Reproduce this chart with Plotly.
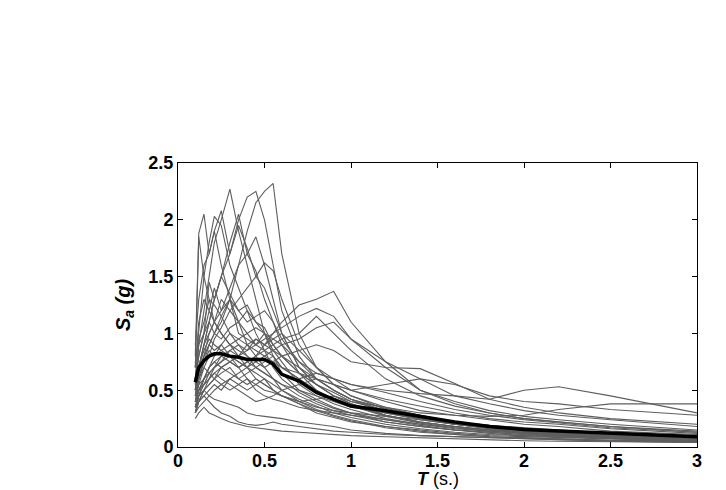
import plotly.graph_objects as go

periods = [0.1, 0.12, 0.15, 0.18, 0.21, 0.25, 0.3, 0.35, 0.4, 0.45, 0.5, 0.55, 0.6,
           0.7, 0.8, 0.9, 1.0, 1.2, 1.4, 1.6, 1.8, 2.0, 2.2, 2.5, 3.0]

mean_sa = [0.57, 0.70, 0.76, 0.80, 0.82, 0.82, 0.80, 0.79, 0.77, 0.77, 0.77, 0.73, 0.64,
           0.58, 0.48, 0.42, 0.36, 0.32, 0.27, 0.22, 0.18, 0.155, 0.14, 0.12, 0.09]

r01 = [0.45,0.6,0.75,0.9,1.0,1.1,1.3,1.6,1.9,2.15,2.25,2.32,1.7,1.0,0.7,0.55,0.45,0.33,0.25,0.2,0.16,0.13,0.11,0.09,0.07]
r02 = [0.6,0.9,1.2,1.5,1.8,2.0,2.27,1.9,1.6,1.3,1.0,0.8,0.65,0.5,0.42,0.35,0.3,0.22,0.18,0.15,0.12,0.1,0.09,0.07,0.05]
r03 = [0.5,0.7,0.9,1.1,1.3,1.5,1.7,2.0,2.2,2.25,2.0,1.6,1.2,0.8,0.6,0.5,0.42,0.3,0.24,0.2,0.17,0.14,0.12,0.1,0.08]
r04 = [0.8,1.88,2.05,1.7,1.9,1.6,1.3,1.1,0.9,0.8,0.7,0.6,0.5,0.4,0.33,0.28,0.24,0.18,0.14,0.11,0.09,0.08,0.07,0.06,0.05]
r05 = [0.7,1.0,1.5,1.8,2.03,1.95,1.6,1.4,1.2,1.0,0.85,0.7,0.6,0.48,0.4,0.34,0.3,0.24,0.19,0.15,0.13,0.11,0.1,0.08,0.06]
r06 = [0.9,1.3,1.6,1.7,1.9,2.08,1.7,1.95,1.75,1.5,1.4,1.2,1.0,0.7,0.55,0.45,0.38,0.28,0.22,0.18,0.15,0.12,0.11,0.09,0.07]
r07 = [0.5,0.6,0.8,1.0,1.1,1.2,1.4,1.6,1.7,1.55,1.3,1.1,0.9,0.65,0.5,0.42,0.36,0.27,0.21,0.17,0.14,0.12,0.11,0.09,0.07]
r08 = [0.4,0.55,0.7,0.8,0.95,1.05,1.2,1.3,1.4,1.5,1.62,1.55,1.3,0.9,0.7,0.55,0.45,0.35,0.28,0.22,0.18,0.15,0.13,0.11,0.08]
r09 = [0.35,0.4,0.5,0.55,0.6,0.7,0.75,0.8,0.85,0.9,0.95,1.0,1.1,1.25,1.3,1.37,1.1,0.75,0.5,0.38,0.3,0.25,0.22,0.18,0.14]
r10 = [0.4,0.5,0.6,0.65,0.7,0.75,0.85,0.8,0.9,0.95,0.9,1.0,1.05,1.15,1.22,1.15,0.95,0.7,0.5,0.4,0.32,0.27,0.24,0.2,0.15]
r11 = [0.3,0.35,0.4,0.45,0.5,0.55,0.6,0.65,0.7,0.75,0.8,0.85,0.9,0.95,1.05,1.1,0.95,0.75,0.6,0.45,0.38,0.32,0.28,0.24,0.18]
r12 = [0.35,0.45,0.5,0.55,0.6,0.65,0.7,0.6,0.65,0.7,0.75,0.8,0.7,0.6,0.65,0.6,0.55,0.5,0.47,0.45,0.42,0.5,0.53,0.45,0.3]
r13 = [0.3,0.4,0.45,0.5,0.55,0.5,0.6,0.55,0.5,0.55,0.6,0.5,0.45,0.4,0.42,0.45,0.4,0.35,0.3,0.28,0.27,0.28,0.33,0.38,0.38]
r14 = [0.5,0.7,0.8,0.9,0.85,0.9,1.0,0.95,0.9,0.85,0.8,0.75,0.7,0.65,0.6,0.55,0.5,0.55,0.6,0.55,0.45,0.4,0.38,0.33,0.28]
r15 = [0.45,0.55,0.6,0.7,0.75,0.8,0.85,0.9,0.8,0.75,0.7,0.75,0.8,0.85,0.9,0.85,0.75,0.7,0.69,0.56,0.42,0.35,0.3,0.25,0.2]
r16 = [0.6,0.8,1.0,1.2,1.1,1.3,1.2,1.1,1.0,0.9,0.85,0.8,0.7,0.6,0.5,0.42,0.36,0.28,0.22,0.18,0.15,0.13,0.11,0.09,0.07]
r17 = [0.7,1.1,1.3,1.2,1.4,1.2,1.3,1.0,0.95,0.9,1.0,0.85,0.75,0.55,0.45,0.38,0.33,0.25,0.2,0.16,0.14,0.12,0.1,0.08,0.06]
r18 = [0.55,0.9,1.0,1.1,1.0,0.95,1.05,1.1,1.2,1.1,1.0,0.9,0.8,0.65,0.55,0.45,0.38,0.3,0.25,0.2,0.16,0.14,0.12,0.1,0.08]
r19 = [0.4,0.6,0.75,0.85,0.8,0.9,0.8,0.75,0.7,0.8,0.9,0.95,1.0,0.85,0.7,0.6,0.5,0.4,0.32,0.28,0.24,0.2,0.18,0.14,0.11]
r20 = [0.35,0.5,0.6,0.7,0.75,0.7,0.65,0.6,0.55,0.6,0.55,0.5,0.45,0.38,0.3,0.26,0.22,0.18,0.15,0.12,0.1,0.09,0.08,0.07,0.05]
r21 = [0.45,0.6,0.7,0.65,0.6,0.55,0.5,0.55,0.6,0.5,0.45,0.42,0.4,0.35,0.32,0.3,0.28,0.24,0.2,0.17,0.15,0.13,0.11,0.09,0.07]
r22 = [0.25,0.3,0.35,0.3,0.28,0.25,0.22,0.2,0.18,0.17,0.16,0.15,0.14,0.13,0.12,0.11,0.1,0.09,0.08,0.07,0.06,0.055,0.05,0.045,0.04]
r23 = [0.3,0.4,0.45,0.4,0.35,0.3,0.27,0.22,0.2,0.19,0.2,0.22,0.2,0.18,0.16,0.14,0.13,0.11,0.1,0.09,0.08,0.07,0.06,0.05,0.04]
r24 = [0.35,0.45,0.5,0.45,0.42,0.4,0.38,0.35,0.3,0.28,0.27,0.26,0.25,0.22,0.2,0.18,0.15,0.12,0.1,0.09,0.08,0.07,0.065,0.055,0.045]
r25 = [0.5,0.7,0.9,1.0,1.1,1.0,0.9,0.85,0.8,0.7,0.65,0.6,0.55,0.45,0.38,0.32,0.28,0.22,0.18,0.15,0.13,0.11,0.1,0.08,0.06]
r26 = [0.6,0.95,1.1,1.3,1.25,1.15,1.0,0.9,0.85,0.95,0.9,0.85,0.8,0.7,0.6,0.5,0.42,0.34,0.28,0.22,0.19,0.16,0.14,0.11,0.09]
r27 = [0.45,0.65,0.8,0.9,1.0,1.15,1.3,1.2,1.1,1.15,1.2,1.1,0.95,0.75,0.6,0.5,0.42,0.32,0.25,0.2,0.17,0.14,0.12,0.1,0.08]
r28 = [0.3,0.45,0.55,0.65,0.7,0.8,0.75,0.7,0.75,0.7,0.65,0.6,0.55,0.5,0.45,0.4,0.35,0.3,0.26,0.22,0.19,0.17,0.15,0.12,0.1]
r29 = [0.55,0.8,1.0,1.45,1.3,1.5,1.35,1.2,1.25,1.1,1.05,0.9,0.8,0.65,0.55,0.48,0.4,0.32,0.26,0.21,0.18,0.15,0.13,0.11,0.08]
r30 = [0.4,0.5,0.55,0.6,0.65,0.6,0.55,0.5,0.45,0.4,0.42,0.45,0.5,0.55,0.6,0.55,0.5,0.42,0.36,0.3,0.25,0.22,0.2,0.16,0.12]
r31 = [0.35,0.45,0.6,0.7,0.8,0.85,0.9,0.95,1.0,1.05,1.0,0.95,0.9,0.75,0.65,0.6,0.55,0.48,0.4,0.33,0.28,0.24,0.21,0.17,0.13]
r32 = [0.5,0.7,0.85,0.95,0.9,0.85,0.8,0.75,0.7,0.65,0.6,0.55,0.5,0.42,0.36,0.3,0.26,0.2,0.16,0.13,0.11,0.1,0.09,0.07,0.05]
r33 = [0.7,1.85,1.5,1.3,1.1,1.0,0.9,0.8,0.7,0.6,0.55,0.5,0.45,0.38,0.32,0.27,0.23,0.17,0.13,0.11,0.09,0.08,0.07,0.06,0.05]
r34 = [0.5,0.7,0.9,1.1,1.3,1.5,1.8,2.05,1.7,1.85,1.6,1.3,1.0,0.7,0.55,0.45,0.38,0.28,0.22,0.18,0.15,0.13,0.11,0.09,0.07]
r35 = [0.3,0.4,0.5,0.6,0.7,0.75,0.8,0.7,0.6,0.55,0.5,0.48,0.45,0.4,0.35,0.32,0.3,0.27,0.24,0.2,0.17,0.15,0.14,0.12,0.1]
r36 = [0.4,0.5,0.55,0.6,0.65,0.7,0.75,0.7,0.75,0.8,0.85,0.9,0.95,1.0,1.15,1.0,0.85,0.6,0.45,0.36,0.3,0.25,0.22,0.18,0.13]

records = [r01, r02, r03, r04, r05, r06, r07, r08, r09, r10, r11, r12, r13, r14, r15, r16, r17, r18,
           r19, r20, r21, r22, r23, r24, r25, r26, r27, r28, r29, r30, r31, r32, r33, r34, r35, r36]

x_ticks = [0, 0.5, 1, 1.5, 2, 2.5, 3]
y_ticks = [0, 0.5, 1, 1.5, 2, 2.5]

FONT = "Liberation Sans, Arial, sans-serif"

fig = go.Figure()
for rec in records:
    fig.add_trace(go.Scatter(x=periods, y=rec, mode="lines",
                             line=dict(color="#5e5e5e", width=1.1),
                             showlegend=False, hoverinfo="skip"))
fig.add_trace(go.Scatter(x=periods, y=mean_sa, mode="lines",
                         line=dict(color="black", width=3.5),
                         showlegend=False))

axis_common = dict(showline=True, linecolor="black", linewidth=1, mirror="ticks",
                   ticks="inside", ticklen=5, tickcolor="black", showgrid=False,
                   zeroline=False, automargin=False,
                   tickfont=dict(family=FONT, size=18, color="black", weight="bold"))

fig.update_layout(
    width=726, height=490,
    margin=dict(l=178, r=29, t=163, b=43),
    paper_bgcolor="white", plot_bgcolor="white",
    xaxis=dict(range=[0, 3], tickvals=x_ticks, ticktext=[str(v) for v in x_ticks],
               ticklabelstandoff=-3, **axis_common),
    yaxis=dict(range=[0, 2.5], tickvals=y_ticks, ticktext=[str(v) for v in y_ticks],
               title=dict(text="<b><i>S<sub>a</sub> (g)</i></b>", standoff=12,
                          font=dict(family=FONT, size=20, color="black")),
               **axis_common),
    annotations=[dict(text="<b><i>T</i></b> (s.)", xref="paper", yref="paper",
                      x=0.5, y=-0.1514, xanchor="center", yanchor="bottom",
                      showarrow=False, borderpad=0,
                      font=dict(family=FONT, size=18, color="black"))],
)

fig.write_html("out.html")
